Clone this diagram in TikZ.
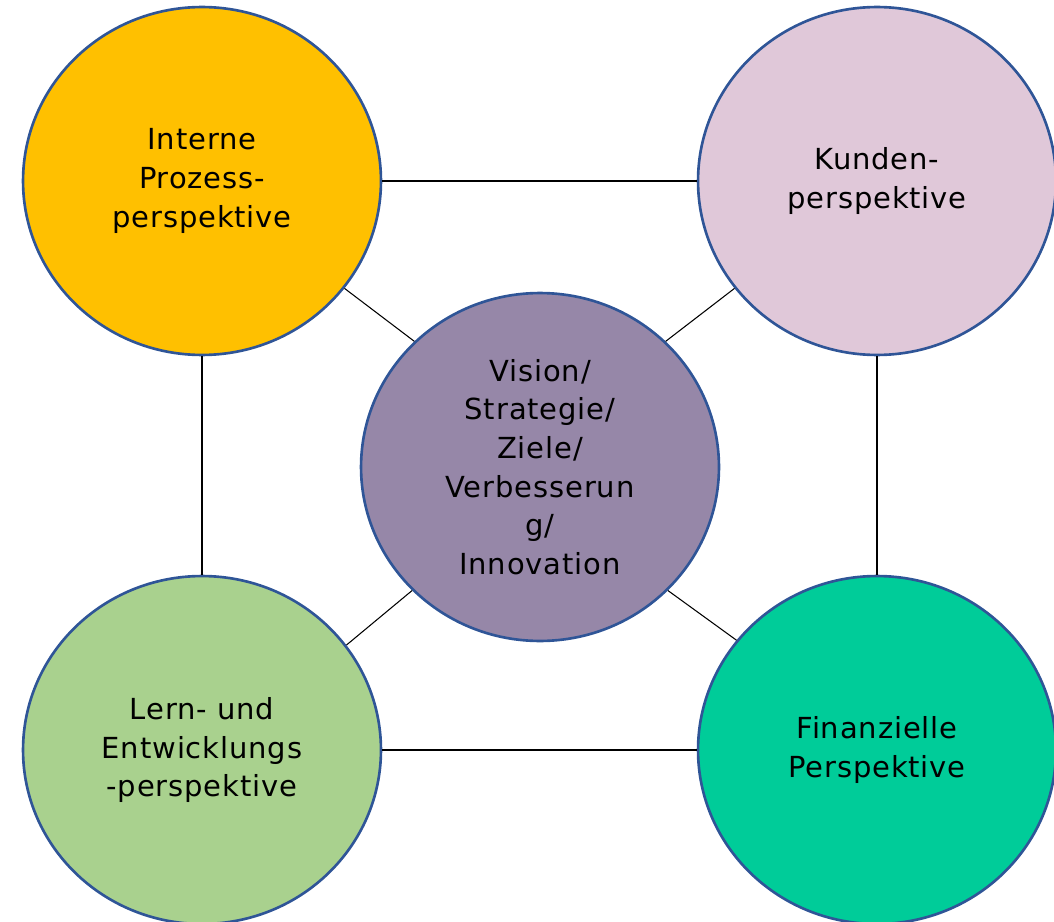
\documentclass[tikz,border=0pt]{standalone}
\usepackage{fontspec}
\setmainfont{DejaVu Sans}[LetterSpace=3]
\usepackage{tikz}
\usetikzlibrary{shapes}
\tikzset{>=latex}
\definecolor{rand}{HTML}{2F5597}
\definecolor{gelb}{HTML}{FFC000}
\definecolor{rosa}{HTML}{E0C8D9}
\definecolor{lila}{HTML}{9687A8}
\definecolor{hellgruen}{HTML}{A9D18E}
\definecolor{tuerkis}{HTML}{00CC99}
\tikzset{perspektive/.style={ellipse, draw=rand, line width=1.5pt, minimum width=7.16cm, minimum height=6.96cm, inner sep=0pt, align=center, text=black, font=\fontsize{16.5}{22}\selectfont}}

\begin{document}
\begin{tikzpicture}[x=0.02cm, y=-0.02cm]
\useasboundingbox (0,0) rectangle (1054,922);
\clip (0,0) rectangle (1054,922);
\node[perspektive, fill=gelb] (intern) at (202,181) {Interne\\Prozess-\\perspektive};
\node[perspektive, fill=rosa] (kunden) at (877,181) {Kunden-\\perspektive};
\node[perspektive, fill=lila] (vision) at (540,467) {Vision/\\Strategie/\\Ziele/\\Verbesserun\\g/\\Innovation};
\node[perspektive, fill=hellgruen] (lernen) at (202,750) {Lern- und\\Entwicklungs\\-perspektive};
\node[perspektive, fill=tuerkis] (finanz) at (877,750) {Finanzielle\\Perspektive};
\path[line width=0.6pt]
(intern)
edge (kunden)
edge (lernen)
(intern.-37) edge (vision.135)
(finanz)
edge (kunden)
edge (lernen)
(finanz.142) edge (vision.-44)
(kunden.-143) edge (vision.45)
(lernen.36) edge (vision.-136)
;
\end{tikzpicture}
\end{document}
